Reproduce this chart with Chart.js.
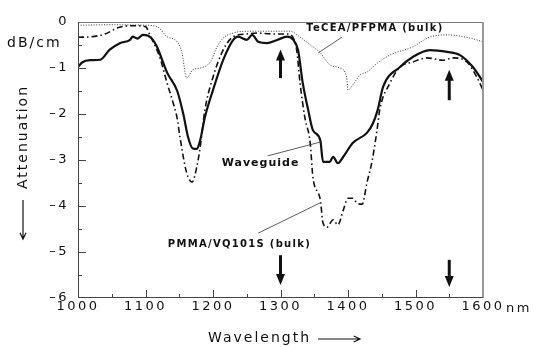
<!DOCTYPE html>
<html>
<head>
<meta charset="utf-8">
<script src="https://cdn.jsdelivr.net/npm/chart.js@4/dist/chart.umd.min.js"></script>
<style>
  html, body { margin: 0; padding: 0; background: #fff; }
  #wrap { width: 534px; height: 347px; }
</style>
</head>
<body>
<div id="wrap"><canvas id="c" width="534" height="347"></canvas></div>
<script>
// 감쇠 스펙트럼 (dB/cm) – 그림에서 눈으로 읽은 값
const X_MIN = 1000, X_MAX = 1600, X_STEP = 100;
const Y_MIN = -6, Y_MAX = 0, Y_STEP = 1;

// TeCEA/PFPMA (bulk) – 가는 점선
const TECEA_NM = [1000, 1050, 1100, 1117, 1132, 1147, 1154, 1161, 1170, 1181, 1196, 1206, 1215, 1230, 1250, 1280, 1314, 1329, 1348, 1359, 1373, 1388, 1398, 1400, 1407, 1418, 1428, 1443, 1462, 1496, 1521, 1547, 1581, 1600];
const TECEA_DB = [-0.07, -0.06, -0.07, -0.1, -0.32, -0.43, -0.67, -1.22, -1.04, -1.0, -0.87, -0.54, -0.35, -0.24, -0.2, -0.2, -0.2, -0.33, -0.54, -0.67, -0.93, -1.0, -1.2, -1.48, -1.37, -1.15, -1.09, -0.9, -0.72, -0.54, -0.33, -0.28, -0.35, -0.43];

// Waveguide – 굵은 실선
const WG_NM = [1000, 1006, 1018, 1033, 1047, 1062, 1077, 1081, 1088, 1096, 1104, 1111, 1117, 1132, 1147, 1156, 1163, 1170, 1176, 1181, 1188, 1200, 1215, 1230, 1237, 1250, 1258, 1267, 1280, 1295, 1310, 1319, 1326, 1333, 1341, 1348, 1359, 1363, 1373, 1378, 1385, 1393, 1407, 1428, 1437, 1444, 1452, 1477, 1496, 1521, 1547, 1566, 1585, 1600];
const WG_DB = [-0.98, -0.88, -0.83, -0.82, -0.6, -0.46, -0.39, -0.32, -0.36, -0.28, -0.3, -0.39, -0.54, -1.1, -1.5, -2.0, -2.5, -2.75, -2.76, -2.57, -2.07, -1.48, -0.83, -0.39, -0.32, -0.39, -0.28, -0.43, -0.46, -0.39, -0.32, -0.39, -0.61, -1.33, -1.91, -2.35, -2.57, -3.04, -3.04, -2.93, -3.07, -2.93, -2.63, -2.41, -2.2, -1.91, -1.41, -0.98, -0.76, -0.61, -0.65, -0.72, -0.98, -1.3];

// PMMA/VQ101S (bulk) – 일점쇄선
const PM_NM = [1000, 1020, 1040, 1060, 1080, 1100, 1107, 1121, 1132, 1141, 1147, 1151, 1161, 1169, 1176, 1181, 1188, 1200, 1215, 1230, 1250, 1265, 1289, 1310, 1319, 1324, 1329, 1336, 1344, 1348, 1359, 1363, 1369, 1378, 1385, 1393, 1400, 1407, 1413, 1421, 1428, 1436, 1443, 1447, 1462, 1477, 1496, 1517, 1541, 1556, 1576, 1591, 1600];
const PM_DB = [-0.33, -0.32, -0.26, -0.12, -0.08, -0.1, -0.3, -0.76, -1.33, -1.76, -2.1, -2.5, -3.28, -3.48, -3.15, -2.72, -1.91, -1.2, -0.61, -0.32, -0.26, -0.24, -0.26, -0.26, -0.35, -0.61, -1.33, -2.07, -2.63, -3.37, -3.87, -4.37, -4.46, -4.3, -4.41, -4.09, -3.83, -3.83, -3.93, -3.96, -3.5, -3.0, -2.35, -1.91, -1.33, -0.98, -0.87, -0.78, -0.83, -0.78, -0.87, -1.2, -1.48];

// 화살표 표시 파장 (통신 파장 1300 / 1550 nm)
const MARK_NM = [1300, 1550];

const ink = '#111';
const pts = (xs, ys) => xs.map((x, i) => ({ x, y: ys[i] }));
const fmtY = v => v === 0 ? '0' : '\u2013' + Math.abs(v);

function arrow(ctx, x, y0, y1) {
  const dir = y1 > y0 ? 1 : -1;
  ctx.beginPath();
  ctx.lineWidth = 3;
  ctx.moveTo(x, y0);
  ctx.lineTo(x, y1 - dir * 8);
  ctx.stroke();
  ctx.beginPath();
  ctx.moveTo(x - 4.5, y1 - dir * 11);
  ctx.lineTo(x + 4.5, y1 - dir * 11);
  ctx.lineTo(x, y1);
  ctx.closePath();
  ctx.fill();
}

function lineArrow(ctx, x0, y0, x1, y1) {
  ctx.beginPath();
  ctx.lineWidth = 1.2;
  ctx.moveTo(x0, y0);
  ctx.lineTo(x1, y1);
  const a = Math.atan2(y1 - y0, x1 - x0);
  ctx.moveTo(x1 - 7 * Math.cos(a - 0.45), y1 - 7 * Math.sin(a - 0.45));
  ctx.lineTo(x1, y1);
  ctx.lineTo(x1 - 7 * Math.cos(a + 0.45), y1 - 7 * Math.sin(a + 0.45));
  ctx.stroke();
}

const decor = {
  id: 'decor',
  beforeDraw(chart) {
    chart.ctx.letterSpacing = '2.5px';
  },
  afterDraw(chart) {
    const { ctx, chartArea: a, scales: { x, y } } = chart;
    ctx.save();

    // 테두리
    ctx.strokeStyle = '#777';
    ctx.lineWidth = 1;
    ctx.beginPath();
    ctx.moveTo(a.left, a.top + 0.5); ctx.lineTo(a.right, a.top + 0.5);
    ctx.stroke();
    ctx.strokeStyle = '#999';
    ctx.lineWidth = 2;
    ctx.beginPath();
    ctx.moveTo(a.right, a.top); ctx.lineTo(a.right, a.bottom);
    ctx.stroke();
    ctx.strokeStyle = '#444';
    ctx.lineWidth = 1;
    ctx.beginPath();
    ctx.moveTo(a.left + 0.5, a.top); ctx.lineTo(a.left + 0.5, a.bottom);
    ctx.moveTo(a.left, a.bottom - 0.5); ctx.lineTo(a.right, a.bottom - 0.5);
    ctx.stroke();

    // 안쪽 눈금
    ctx.beginPath();
    for (let v = X_MIN + X_STEP / 2; v < X_MAX; v += X_STEP / 2) {
      const px = Math.round(x.getPixelForValue(v)) + 0.5;
      const len = (v % X_STEP === 0) ? 8 : 4;
      ctx.moveTo(px, a.bottom); ctx.lineTo(px, a.bottom - len);
    }
    for (let v = Y_MIN + Y_STEP / 2; v < Y_MAX; v += Y_STEP / 2) {
      const py = Math.round(y.getPixelForValue(v)) + 0.5;
      const len = Number.isInteger(v) ? 8 : 4;
      ctx.moveTo(a.left, py); ctx.lineTo(a.left + len, py);
    }
    ctx.stroke();

    // 1300 / 1550 nm 화살표
    ctx.strokeStyle = ink;
    ctx.fillStyle = ink;
    const up = [[-1.22, -0.6], [-1.7, -1.04]];
    const down = [[-5.07, -5.72], [-5.17, -5.76]];
    MARK_NM.forEach((nm, i) => {
      const px = x.getPixelForValue(nm);
      arrow(ctx, px, y.getPixelForValue(up[i][0]), y.getPixelForValue(up[i][1]));
      arrow(ctx, px, y.getPixelForValue(down[i][0]), y.getPixelForValue(down[i][1]));
    });

    // 지시선
    ctx.lineWidth = 0.8;
    ctx.strokeStyle = '#333';
    const leaders = [
      [1391, -0.33, 1356, -0.67],
      [1281, -2.91, 1359, -2.61],
      [1267, -4.59, 1359, -3.93]
    ];
    ctx.beginPath();
    leaders.forEach(l => {
      ctx.moveTo(x.getPixelForValue(l[0]), y.getPixelForValue(l[1]));
      ctx.lineTo(x.getPixelForValue(l[2]), y.getPixelForValue(l[3]));
    });
    ctx.stroke();

    // 곡선 라벨
    ctx.fillStyle = ink;
    ctx.textBaseline = 'middle';
    ctx.textAlign = 'left';
    ctx.font = 'bold 10px "DejaVu Sans"';
    ctx.letterSpacing = '1.3px';
    ctx.fillText('TeCEA/PFPMA (bulk)', x.getPixelForValue(1338), y.getPixelForValue(-0.13));
    ctx.fillText('PMMA/VQ101S (bulk)', x.getPixelForValue(1133), y.getPixelForValue(-4.83));
    ctx.font = 'bold 11px "DejaVu Sans"';
    ctx.letterSpacing = '1px';
    ctx.fillText('Waveguide', x.getPixelForValue(1213), y.getPixelForValue(-3.07));

    // 축 제목
    ctx.font = '14px "DejaVu Sans"';
    ctx.letterSpacing = '2px';
    ctx.fillText('dB/cm', 7, 43);
    ctx.fillText('Wavelength', 208, 338);
    ctx.font = '13px "DejaVu Sans"';
    ctx.letterSpacing = '2.5px';
    ctx.fillText('nm', 506, 309);

    ctx.save();
    ctx.translate(23, 137);
    ctx.rotate(-Math.PI / 2);
    ctx.textAlign = 'center';
    ctx.font = '14px "DejaVu Sans"';
    ctx.letterSpacing = '2px';
    ctx.fillText('Attenuation', 0, 0);
    ctx.restore();

    ctx.strokeStyle = ink;
    lineArrow(ctx, 318, 339, 360, 339);
    lineArrow(ctx, 23, 200, 23, 239);

    ctx.restore();
  }
};

new Chart(document.getElementById('c'), {
  type: 'line',
  data: {
    datasets: [
      {
        label: 'TeCEA/PFPMA (bulk)', data: pts(TECEA_NM, TECEA_DB),
        borderColor: '#333', borderWidth: 1, borderDash: [1, 1.6]
      },
      {
        label: 'Waveguide', data: pts(WG_NM, WG_DB),
        borderColor: ink, borderWidth: 2.2
      },
      {
        label: 'PMMA/VQ101S (bulk)', data: pts(PM_NM, PM_DB),
        borderColor: ink, borderWidth: 1.6, borderDash: [6, 3, 1.5, 3]
      }
    ]
  },
  options: {
    responsive: false,
    animation: false,
    devicePixelRatio: 1,
    layout: { padding: { top: 22, right: 51, left: 0, bottom: 0 } },
    elements: {
      point: { radius: 0 },
      line: { cubicInterpolationMode: 'monotone', fill: false }
    },
    plugins: { legend: { display: false }, tooltip: { enabled: false } },
    scales: {
      x: {
        type: 'linear', min: X_MIN, max: X_MAX,
        afterFit: s => { s.height = 49; },
        grid: { display: false, drawTicks: false },
        border: { display: false },
        ticks: {
          stepSize: X_STEP, maxRotation: 0, autoSkip: false, padding: 1,
          color: ink, font: { family: 'DejaVu Sans', size: 13 },
          callback: v => String(v)
        }
      },
      y: {
        type: 'linear', min: Y_MIN, max: Y_MAX,
        afterFit: s => { s.width = 78; },
        grid: { display: false, drawTicks: false },
        border: { display: false },
        ticks: {
          stepSize: Y_STEP, padding: 9,
          color: ink, font: { family: 'DejaVu Sans', size: 13 },
          callback: fmtY
        }
      }
    }
  },
  plugins: [decor]
});
</script>
</body>
</html>
